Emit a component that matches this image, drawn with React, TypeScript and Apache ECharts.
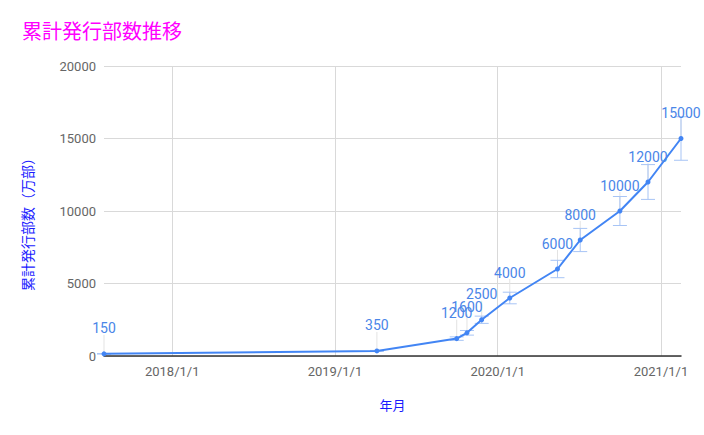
import React, { useEffect, useRef } from "react";
import * as echarts from "echarts";

const dates = [
  "2017-08-01",
  "2019-04-05",
  "2019-10-01",
  "2019-10-24",
  "2019-11-26",
  "2020-01-28",
  "2020-05-14",
  "2020-07-04",
  "2020-10-01",
  "2020-12-03",
  "2021-02-15",
];
const values = [150, 350, 1200, 1600, 2500, 4000, 6000, 8000, 10000, 12000, 15000];
const errorRatio = 0.1;
const yTicks = [0, 5000, 10000, 15000, 20000];

const toTs = (s: string) => {
  const [y, m, d] = s.split("-").map(Number);
  return Date.UTC(y, m - 1, d);
};

export default function App() {
  const ref = useRef<HTMLDivElement>(null);
  useEffect(() => {
    if (!ref.current) return;
    const chart = echarts.init(ref.current, undefined, { renderer: "svg" });
    const ts = dates.map(toTs);
    const lineData = ts.map((t, i) => [t, values[i]]);
    const errData = ts.map((t, i) => [t, values[i] * (1 - errorRatio), values[i] * (1 + errorRatio), values[i]]);
    const font = "Roboto, 'Noto Sans CJK JP', sans-serif";
    const cjk = "'Noto Sans CJK JP', sans-serif";
    chart.setOption({
      animation: false,
      useUTC: true,
      title: {
        text: "累計発行部数推移",
        left: 17,
        top: 15,
        textStyle: { color: "#ff00ff", fontSize: 20, fontWeight: "normal", fontFamily: cjk },
      },
      grid: { left: 104, right: 23, top: 66, bottom: 79 },
      xAxis: {
        type: "time",
        min: ts[0],
        max: ts[ts.length - 1],
        minInterval: 365 * 86400000,
        splitNumber: 3,
        name: "年月",
        nameLocation: "middle",
        nameGap: 42,
        nameTextStyle: { color: "#1a1aff", fontSize: 13, fontFamily: cjk },
        axisLine: { show: true, lineStyle: { color: "#333", width: 1.5 } },
        axisTick: { show: false },
        axisLabel: {
          color: "#666",
          fontSize: 13,
          fontFamily: font,
          margin: 9,
          showMinLabel: false,
          showMaxLabel: false,
          formatter: (v: number) => {
            const d = new Date(v);
            return `${d.getUTCFullYear()}/${d.getUTCMonth() + 1}/${d.getUTCDate()}`;
          },
        },
        splitLine: { show: true, showMinLine: false, showMaxLine: false, lineStyle: { color: "#d9d9d9", width: 1 } },
        minorTick: { show: false },
      },
      yAxis: {
        type: "value",
        min: yTicks[0],
        max: yTicks[yTicks.length - 1],
        interval: 5000,
        name: "累計発行部数（万部）",
        nameLocation: "middle",
        nameGap: 70,
        nameTextStyle: { color: "#1a1aff", fontSize: 14, fontFamily: cjk, padding: [0, 20, 0, 0] },
        axisLine: { show: false },
        axisTick: { show: false },
        axisLabel: { color: "#666", fontSize: 13, fontFamily: font, margin: 8, formatter: (v: number) => String(v) },
        splitLine: { lineStyle: { color: "#d9d9d9", width: 1 } },
      },
      series: [
        {
          type: "custom",
          z: 1,
          clip: false,
          data: errData,
          encode: { x: 0, y: [1, 2] },
          renderItem: (params: any, api: any) => {
            const t = api.value(0);
            const lo = api.coord([t, api.value(1)]);
            const hi = api.coord([t, api.value(2)]);
            const pt = api.coord([t, api.value(3)]);
            const cap = 7;
            const stroke = { stroke: "#a7c4f5", lineWidth: 1 };
            return {
              type: "group",
              children: [
                {
                  type: "line",
                  shape: { x1: pt[0], y1: pt[1], x2: pt[0], y2: pt[1] - 19 },
                  style: { stroke: "#e3e3e3", lineWidth: 1 },
                },
                { type: "line", shape: { x1: lo[0], y1: lo[1], x2: hi[0], y2: hi[1] }, style: stroke },
                { type: "line", shape: { x1: lo[0] - cap, y1: lo[1], x2: lo[0] + cap, y2: lo[1] }, style: stroke },
                { type: "line", shape: { x1: hi[0] - cap, y1: hi[1], x2: hi[0] + cap, y2: hi[1] }, style: stroke },
              ],
            };
          },
        },
        {
          type: "line",
          z: 3,
          clip: false,
          data: lineData,
          symbol: "circle",
          symbolSize: 5,
          lineStyle: { color: "#4285f4", width: 2 },
          itemStyle: { color: "#4285f4" },
          label: {
            show: true,
            position: "top",
            distance: 16,
            color: "#4a86e8",
            fontSize: 14,
            fontFamily: font,
          },
        },
      ],
    });
    return () => chart.dispose();
  }, []);
  return (
    <div
      ref={ref}
      style={{ position: "absolute", left: 0, top: 0, width: 704, height: 435 }}
    />
  );
}
